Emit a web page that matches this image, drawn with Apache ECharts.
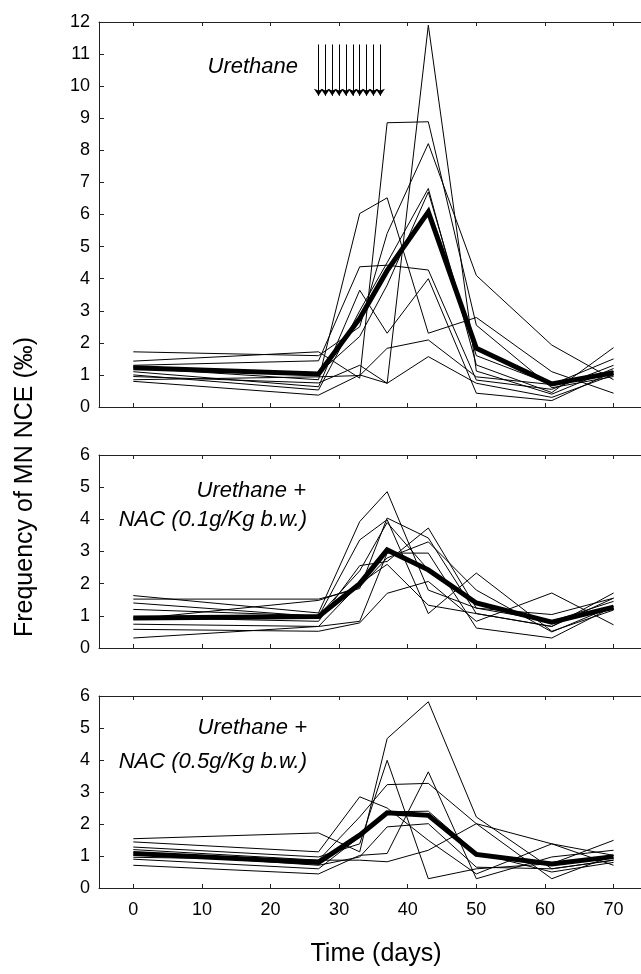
<!DOCTYPE html>
<html>
<head>
<meta charset="utf-8">
<script src="https://cdn.jsdelivr.net/npm/echarts@6/dist/echarts.min.js"></script>
<style>
html,body{margin:0;padding:0;background:#fff;}
#chart{width:641px;height:974px;}
</style>
</head>
<body>
<div id="chart"></div>
<script>
// ---------- data ----------
const days = [0, 27, 33, 37, 43, 50, 61, 70];
const xTickValues = [0, 10, 20, 30, 40, 50, 60, 70];
const arrowDays = [27, 28, 29, 30, 31, 32, 33, 34, 35, 36];
const arrowTop = 11.3;
const arrowBottom = 9.7;

// Panel 1: Urethane
const topMean = [1.22, 1.03, 2.76, 4.25, 6.08, 1.83, 0.72, 1.07];
const topLines = [
  [1.22, 0.85, 6.03, 6.52, 2.30, 2.79, 1.10, 0.43],
  [0.95, 0.75, 1.30, 0.74, 11.90, 1.12, 0.40, 1.20],
  [1.10, 0.63, 3.64, 2.30, 4.00, 0.43, 0.20, 1.10],
  [1.30, 1.44, 4.37, 4.42, 4.27, 0.84, 0.55, 1.30],
  [0.85, 0.94, 0.98, 1.83, 2.09, 0.94, 0.70, 1.50],
  [0.80, 0.37, 1.00, 0.74, 1.57, 0.74, 0.30, 1.00],
  [1.43, 1.72, 0.90, 8.86, 8.89, 2.55, 0.60, 0.95],
  [1.72, 1.60, 2.50, 5.41, 8.21, 4.10, 1.93, 0.85],
  [1.00, 0.53, 3.00, 4.50, 6.81, 1.31, 0.45, 1.85],
  [1.25, 1.05, 2.20, 3.80, 6.70, 1.60, 0.70, 1.10]
];

// Panel 2: Urethane + NAC 0.1 g/Kg
const midMean = [0.93, 0.98, 2.00, 3.05, 2.43, 1.40, 0.80, 1.27];
const midLines = [
  [1.63, 1.09, 3.93, 4.86, 1.80, 1.24, 1.04, 1.55],
  [1.52, 1.52, 1.85, 4.04, 3.42, 1.07, 0.67, 1.71],
  [1.40, 0.98, 3.36, 3.99, 1.07, 2.33, 0.52, 1.18],
  [0.95, 0.83, 2.56, 2.69, 3.73, 1.24, 0.83, 1.45],
  [0.74, 0.67, 0.83, 2.95, 2.95, 0.62, 0.31, 1.29],
  [0.58, 0.52, 0.78, 1.70, 2.07, 0.83, 1.71, 0.72],
  [0.31, 0.67, 2.00, 2.60, 1.33, 1.07, 0.67, 1.55],
  [1.20, 1.00, 2.40, 3.90, 2.43, 1.40, 0.83, 1.20],
  [0.90, 1.48, 1.90, 2.80, 3.30, 1.80, 0.50, 1.30]
];

// Panel 3: Urethane + NAC 0.5 g/Kg
const botMean = [1.08, 0.80, 1.65, 2.35, 2.27, 1.05, 0.75, 0.98];
const botLines = [
  [1.54, 1.72, 1.13, 4.67, 5.82, 2.22, 0.60, 0.87],
  [1.44, 1.13, 2.85, 2.50, 1.49, 0.44, 1.38, 0.71],
  [1.28, 0.97, 1.38, 3.99, 0.29, 0.60, 0.76, 1.49],
  [0.96, 0.87, 2.22, 3.23, 3.27, 2.01, 0.29, 1.02],
  [0.71, 0.44, 1.02, 1.08, 3.63, 0.29, 0.97, 1.18],
  [1.10, 0.71, 0.97, 1.91, 2.01, 0.65, 0.60, 0.87],
  [1.20, 0.87, 0.87, 0.82, 1.18, 2.01, 1.38, 1.02],
  [0.90, 0.60, 1.60, 2.38, 2.40, 1.10, 0.50, 0.80]
];

const yMaxTop = 12;
const yMaxLow = 6;

// ---------- layout / style ----------
const FONT = 'Liberation Sans, Arial, Helvetica, sans-serif';
const AXIS_COLOR = '#222';
const grids = [
  { left: 99, right: 0, top: 22, height: 385 },
  { left: 99, right: 0, top: 455, height: 193 },
  { left: 99, right: 0, top: 696, height: 192 }
];

function xAxes(gi, showLabels) {
  const common = {
    type: 'value', gridIndex: gi, min: -5, max: 74,
    splitLine: { show: false },
    axisLine: { show: true, onZero: false, lineStyle: { color: AXIS_COLOR, width: 1 } },
    axisTick: { show: true, inside: true, length: 4, customValues: xTickValues, lineStyle: { color: AXIS_COLOR } }
  };
  return [
    Object.assign({}, common, {
      position: 'bottom',
      axisLabel: { show: showLabels, customValues: xTickValues, fontFamily: FONT, fontSize: 18, color: '#000', margin: 13 }
    }),
    Object.assign({}, common, {
      position: 'top',
      axisLabel: { show: false }
    })
  ];
}
function yAxis(gi, max) {
  return {
    type: 'value', gridIndex: gi, min: 0, max: max, interval: 1,
    splitLine: { show: false },
    axisLine: { show: true, onZero: false, lineStyle: { color: AXIS_COLOR, width: 1 } },
    axisTick: { show: true, inside: true, length: 5, lineStyle: { color: AXIS_COLOR } },
    axisLabel: { fontFamily: FONT, fontSize: 18, color: '#000', margin: 9 }
  };
}

const series = [];
function addPanel(gi, lines, mean) {
  lines.forEach(function (vals) {
    series.push({
      type: 'line', xAxisIndex: gi * 2, yAxisIndex: gi, symbol: 'none',
      data: days.map(function (d, i) { return [d, vals[i]]; }),
      lineStyle: { color: '#000', width: 1 }, silent: true, z: 2
    });
  });
  series.push({
    type: 'line', xAxisIndex: gi * 2, yAxisIndex: gi, symbol: 'none',
    data: days.map(function (d, i) { return [d, mean[i]]; }),
    lineStyle: { color: '#000', width: 5, join: 'miter' }, silent: true, z: 3
  });
}
addPanel(0, topLines, topMean);
addPanel(1, midLines, midMean);
addPanel(2, botLines, botMean);

// injection arrows
series.push({
  type: 'line', xAxisIndex: 0, yAxisIndex: 0, data: [], silent: true,
  markLine: {
    silent: true, animation: false,
    symbol: ['none', 'arrow'], symbolSize: 7,
    label: { show: false },
    lineStyle: { color: '#000', width: 1, type: 'solid' },
    data: arrowDays.map(function (d) {
      return [{ coord: [d, arrowTop] }, { coord: [d, arrowBottom] }];
    })
  }
});

const italic = { fontFamily: FONT, fontStyle: 'italic', fontSize: 22, fill: '#000', textAlign: 'right', textVerticalAlign: 'middle' };
function txt(x, y, t) {
  return { type: 'text', x: x, y: y, style: Object.assign({}, italic, { text: t }) };
}

const option = {
  backgroundColor: '#fff',
  animation: false,
  grid: grids,
  xAxis: [].concat(xAxes(0, false), xAxes(1, false), xAxes(2, true)),
  yAxis: [yAxis(0, yMaxTop), yAxis(1, yMaxLow), yAxis(2, yMaxLow)],
  series: series,
  graphic: [
    txt(298, 67, 'Urethane'),
    txt(306, 491, 'Urethane +'),
    txt(307, 520, 'NAC (0.1g/Kg b.w.)'),
    txt(307, 728, 'Urethane +'),
    txt(307, 762, 'NAC (0.5g/Kg b.w.)'),
    {
      type: 'text', x: 25, y: 487, rotation: Math.PI / 2,
      style: { text: 'Frequency of MN NCE (‰)', fontFamily: FONT, fontSize: 25, fill: '#000', textAlign: 'center', textVerticalAlign: 'middle' }
    },
    {
      type: 'text', x: 376, y: 954,
      style: { text: 'Time (days)', fontFamily: FONT, fontSize: 25, fill: '#000', textAlign: 'center', textVerticalAlign: 'middle' }
    }
  ]
};

const chart = echarts.init(document.getElementById('chart'), null, { renderer: 'canvas' });
chart.setOption(option);
</script>
</body>
</html>
